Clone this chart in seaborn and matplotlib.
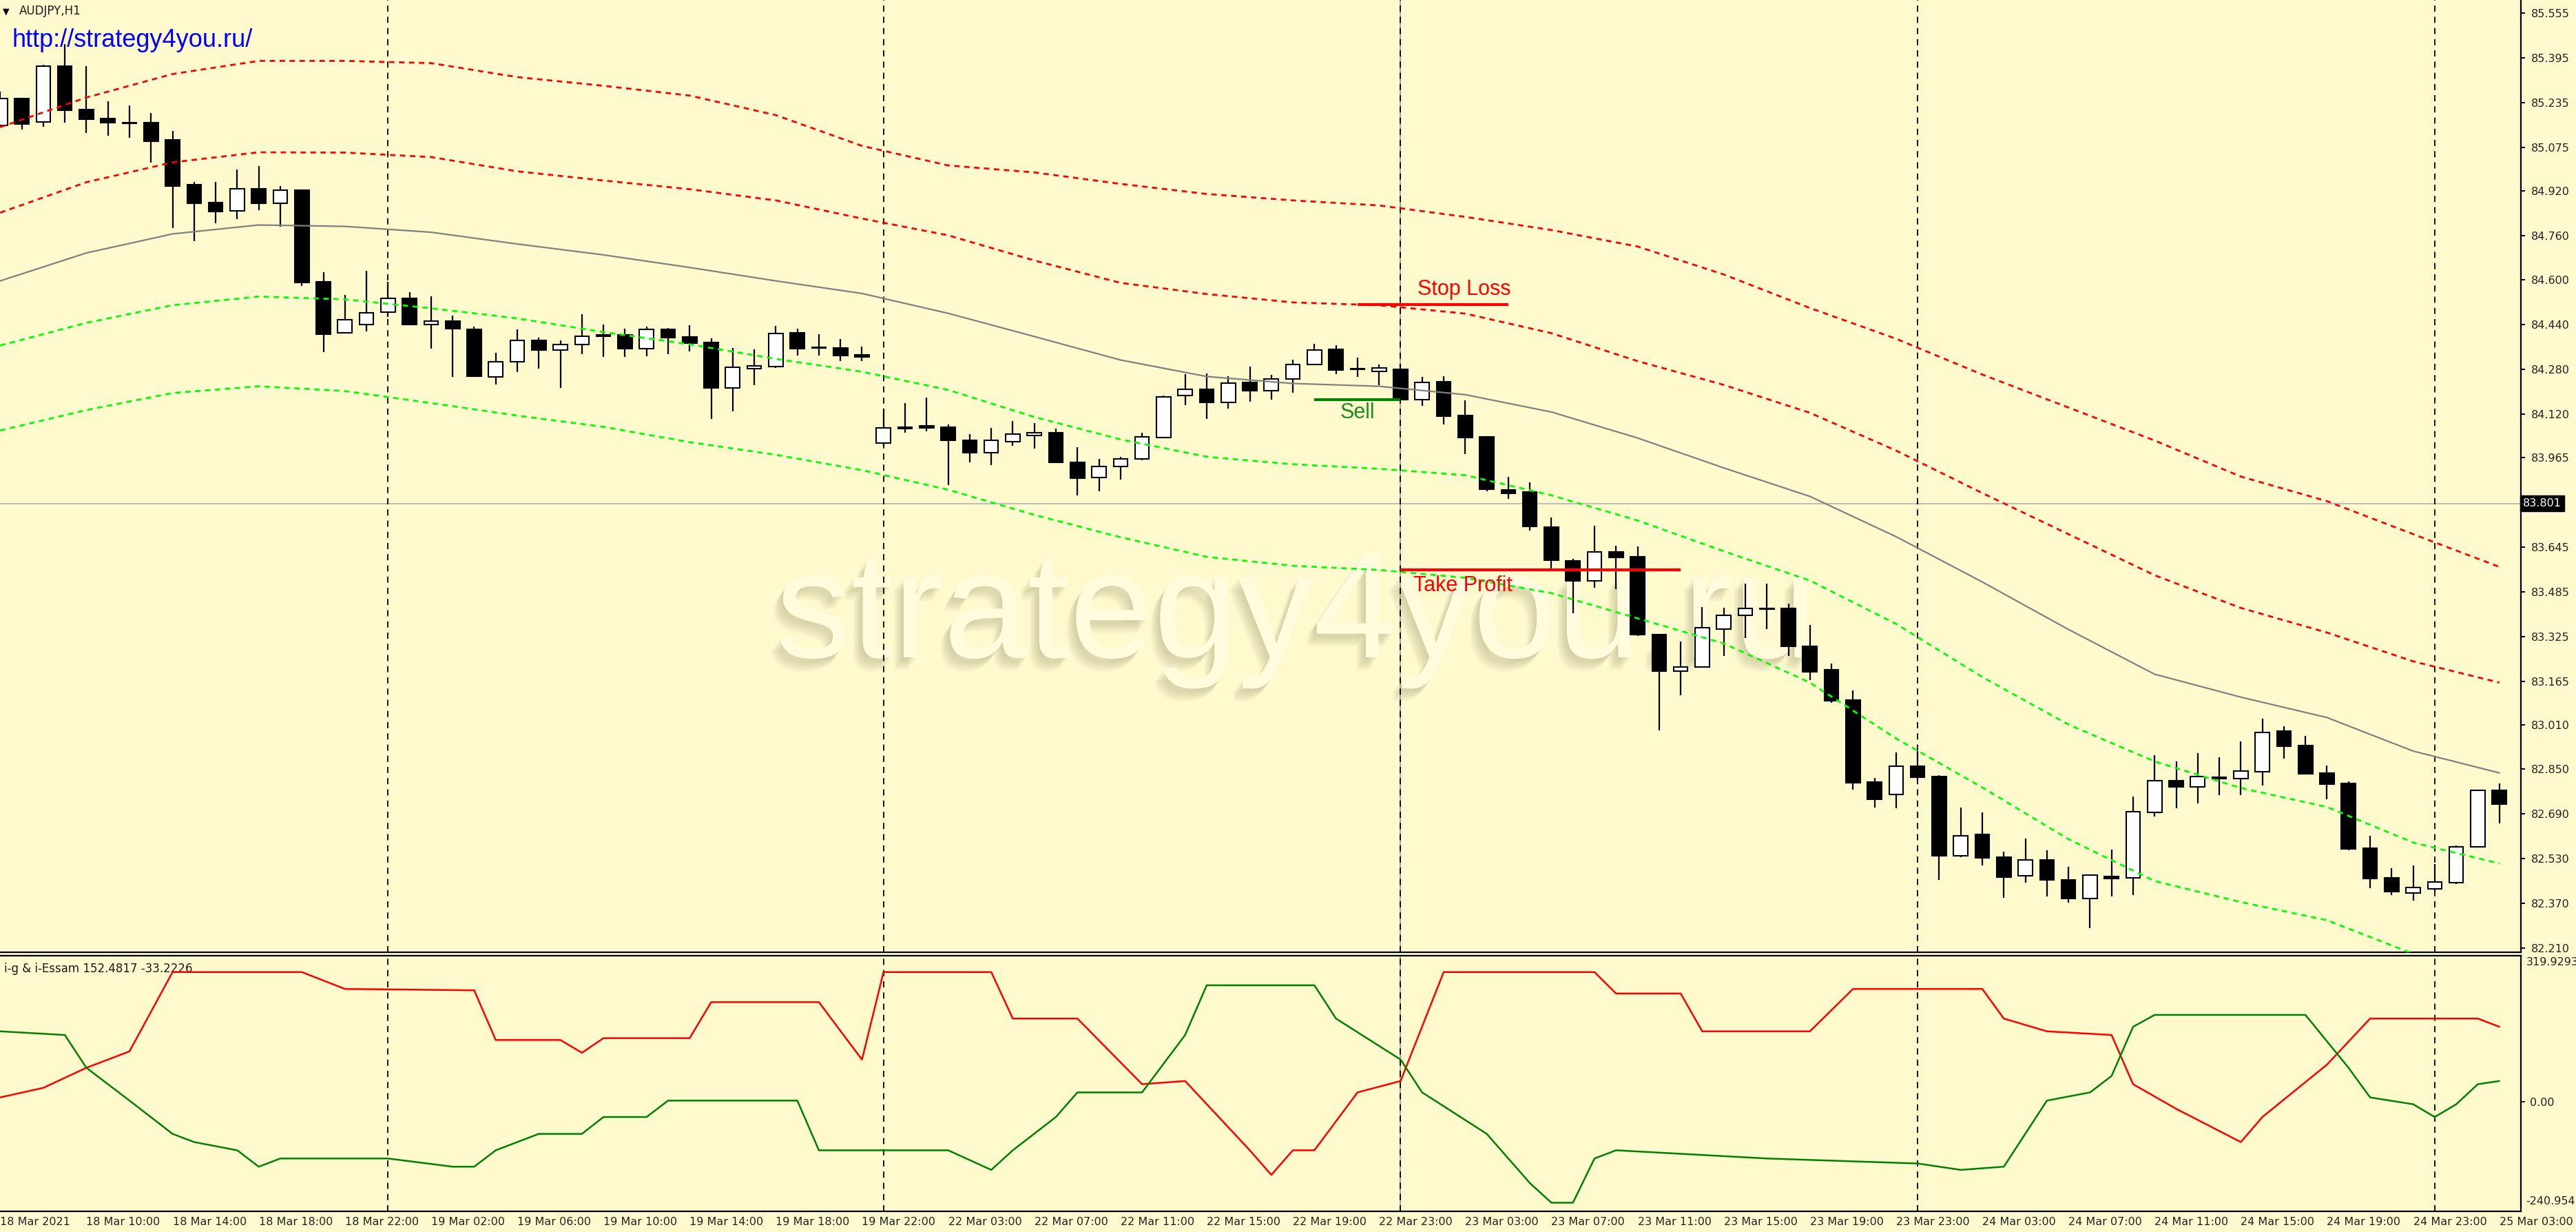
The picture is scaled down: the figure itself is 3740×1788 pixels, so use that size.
import matplotlib
matplotlib.use("Agg")
import matplotlib.pyplot as plt
import matplotlib.patheffects as pe
from matplotlib import font_manager
import numpy as np
import pandas as pd
import seaborn as sns

# AUDJPY H1 candles, 18 Mar 06:00 .. 25 Mar 03:00 (bar index = position on the time axis)
opens = [85.153, 85.250, 85.165, 85.365, 85.210, 85.178, 85.161, 85.164, 85.101, 84.941,
         84.877, 84.847, 84.926, 84.875, 84.922, 84.593, 84.412, 84.442, 84.486, 84.535,
         84.442, 84.452, 84.423, 84.254, 84.308, 84.384, 84.350, 84.370, 84.403, 84.403,
         84.355, 84.423, 84.396, 84.376, 84.215, 84.283, 84.291, 84.411, 84.357, 84.357,
         84.332, 84.018, 84.069, 84.078, 84.074, 84.026, 83.983, 84.023, 84.043, 84.053,
         83.948, 83.893, 83.932, 83.959, 84.037, 84.187, 84.208, 84.162, 84.234, 84.205,
         84.245, 84.298, 84.352, 84.281, 84.273, 84.280, 84.172, 84.237, 84.116, 84.038,
         83.850, 83.841, 83.715, 83.596, 83.524, 83.628, 83.610, 83.331, 83.202, 83.216,
         83.351, 83.401, 83.425, 83.425, 83.291, 83.205, 83.098, 82.804, 82.759, 82.862,
         82.825, 82.541, 82.617, 82.535, 82.470, 82.525, 82.453, 82.388, 82.467, 82.461,
         82.696, 82.808, 82.788, 82.822, 82.816, 82.841, 82.987, 82.934, 82.837, 82.800,
         82.568, 82.462, 82.407, 82.421, 82.444, 82.572, 82.774]
highs = [85.274, 85.253, 85.371, 85.444, 85.365, 85.240, 85.225, 85.197, 85.134, 84.951,
         84.951, 84.995, 85.009, 84.936, 84.924, 84.627, 84.546, 84.633, 84.593, 84.557,
         84.541, 84.472, 84.434, 84.340, 84.423, 84.395, 84.384, 84.478, 84.440, 84.425,
         84.434, 84.429, 84.439, 84.392, 84.357, 84.353, 84.435, 84.425, 84.406, 84.388,
         84.363, 84.141, 84.160, 84.179, 84.084, 84.049, 84.070, 84.097, 84.089, 84.068,
         84.001, 83.959, 83.967, 84.053, 84.187, 84.264, 84.267, 84.256, 84.290, 84.262,
         84.315, 84.372, 84.366, 84.322, 84.298, 84.301, 84.253, 84.257, 84.169, 84.038,
         83.895, 83.877, 83.751, 83.602, 83.721, 83.650, 83.647, 83.333, 83.307, 83.431,
         83.429, 83.515, 83.515, 83.443, 83.366, 83.229, 83.132, 82.819, 82.911, 82.915,
         82.829, 82.714, 82.695, 82.555, 82.603, 82.559, 82.502, 82.472, 82.563, 82.752,
         82.901, 82.877, 82.907, 82.892, 82.950, 83.032, 83.003, 82.969, 82.863, 82.806,
         82.611, 82.496, 82.506, 82.510, 82.577, 82.776, 82.800]
lows = [85.147, 85.138, 85.148, 85.163, 85.125, 85.115, 85.110, 85.019, 84.787, 84.739,
        84.802, 84.817, 84.849, 84.792, 84.580, 84.343, 84.410, 84.417, 84.469, 84.440,
        84.355, 84.254, 84.254, 84.226, 84.272, 84.282, 84.214, 84.336, 84.325, 84.325,
        84.327, 84.334, 84.345, 84.103, 84.131, 84.223, 84.286, 84.330, 84.330, 84.310,
        84.310, 84.004, 84.055, 84.059, 83.867, 83.949, 83.938, 84.006, 83.998, 83.945,
        83.829, 83.844, 83.886, 83.955, 84.036, 84.152, 84.103, 84.141, 84.166, 84.172,
        84.196, 84.297, 84.263, 84.253, 84.223, 84.170, 84.151, 84.083, 83.978, 83.844,
        83.817, 83.703, 83.566, 83.408, 83.500, 83.494, 83.327, 82.989, 83.114, 83.214,
        83.255, 83.319, 83.351, 83.255, 83.168, 83.088, 82.777, 82.712, 82.710, 82.808,
        82.455, 82.536, 82.507, 82.391, 82.444, 82.396, 82.373, 82.281, 82.396, 82.400,
        82.681, 82.710, 82.729, 82.757, 82.757, 82.792, 82.888, 82.831, 82.743, 82.560,
        82.425, 82.400, 82.381, 82.412, 82.440, 82.570, 82.656]
closes = [85.250, 85.159, 85.365, 85.208, 85.175, 85.163, 85.160, 85.096, 84.937, 84.875,
          84.845, 84.926, 84.875, 84.922, 84.591, 84.406, 84.459, 84.483, 84.535, 84.442,
          84.452, 84.427, 84.257, 84.308, 84.384, 84.350, 84.370, 84.400, 84.398, 84.355,
          84.423, 84.394, 84.374, 84.213, 84.289, 84.294, 84.409, 84.355, 84.356, 84.330,
          84.326, 84.072, 84.074, 84.070, 84.026, 83.982, 84.026, 84.049, 84.055, 83.949,
          83.891, 83.932, 83.961, 84.038, 84.183, 84.208, 84.162, 84.232, 84.205, 84.245,
          84.297, 84.349, 84.277, 84.280, 84.285, 84.172, 84.235, 84.113, 84.036, 83.853,
          83.838, 83.718, 83.598, 83.524, 83.628, 83.608, 83.331, 83.202, 83.217, 83.357,
          83.401, 83.425, 83.424, 83.289, 83.198, 83.094, 82.801, 82.742, 82.862, 82.821,
          82.541, 82.611, 82.532, 82.465, 82.525, 82.455, 82.388, 82.471, 82.459, 82.697,
          82.808, 82.788, 82.823, 82.816, 82.843, 82.982, 82.932, 82.835, 82.798, 82.564,
          82.459, 82.412, 82.426, 82.447, 82.572, 82.774, 82.725]

time_labels = ["18 Mar 2021", "18 Mar 10:00", "18 Mar 14:00", "18 Mar 18:00", "18 Mar 22:00",
               "19 Mar 02:00", "19 Mar 06:00", "19 Mar 10:00", "19 Mar 14:00", "19 Mar 18:00",
               "19 Mar 22:00", "22 Mar 03:00", "22 Mar 07:00", "22 Mar 11:00", "22 Mar 15:00",
               "22 Mar 19:00", "22 Mar 23:00", "23 Mar 03:00", "23 Mar 07:00", "23 Mar 11:00",
               "23 Mar 15:00", "23 Mar 19:00", "23 Mar 23:00", "24 Mar 03:00", "24 Mar 07:00",
               "24 Mar 11:00", "24 Mar 15:00", "24 Mar 19:00", "24 Mar 23:00", "25 Mar 03:00"]
label_bars = list(range(0, 117, 4))
day_breaks = [18, 41, 65, 89, 113]

# channel lines, read every 4th bar
band_bars = list(range(0, 117, 4))
upper_outer = [85.147, 85.253, 85.337, 85.384, 85.384, 85.376, 85.326, 85.295, 85.260, 85.190,
               85.080, 85.010, 84.985, 84.944, 84.908, 84.885, 84.867, 84.826, 84.779, 84.720,
               84.620, 84.500, 84.390, 84.262, 84.144, 84.026, 83.897, 83.809, 83.691, 83.574]
upper_inner = [84.841, 84.950, 85.021, 85.057, 85.056, 85.040, 84.989, 84.956, 84.925, 84.885,
               84.820, 84.760, 84.670, 84.590, 84.550, 84.520, 84.510, 84.480, 84.410, 84.310,
               84.225, 84.125, 83.990, 83.838, 83.691, 83.544, 83.427, 83.339, 83.236, 83.160]
middle = [84.597, 84.697, 84.765, 84.797, 84.792, 84.771, 84.729, 84.690, 84.645, 84.597,
          84.552, 84.481, 84.398, 84.314, 84.255, 84.230, 84.220, 84.190, 84.128, 84.035,
          83.928, 83.826, 83.682, 83.520, 83.350, 83.190, 83.108, 83.035, 82.915, 82.837]
lower_inner = [84.366, 84.447, 84.510, 84.541, 84.531, 84.499, 84.463, 84.414, 84.370, 84.318,
               84.272, 84.207, 84.110, 84.030, 83.968, 83.941, 83.925, 83.902, 83.830, 83.740,
               83.630, 83.525, 83.370, 83.180, 83.010, 82.878, 82.783, 82.715, 82.588, 82.513]
lower_outer = [84.062, 84.135, 84.196, 84.220, 84.203, 84.160, 84.115, 84.075, 84.020, 83.975,
               83.920, 83.850, 83.760, 83.680, 83.610, 83.578, 83.563, 83.535, 83.480, 83.390,
               83.300, 83.160, 82.960, 82.785, 82.600, 82.450, 82.375, 82.310, 82.190, 82.080]

price_ticks = [85.555, 85.395, 85.235, 85.075, 84.920, 84.760, 84.600, 84.440, 84.280, 84.120,
               83.965, 83.645, 83.485, 83.325, 83.165, 83.010, 82.850, 82.690, 82.530, 82.370,
               82.210]
bid_price = 83.801

# i-g & i-Essam oscillator
red_bars = [0, 2, 4, 6, 8, 14, 16, 22, 23, 26, 27, 28, 32, 33, 38, 40, 41, 46, 47, 50,
            53, 55, 58, 59, 60, 61, 63, 65, 67, 74, 75, 78, 79, 84, 86, 92, 93, 95, 98, 99,
            101, 104, 105, 108, 110, 115, 116]
red_vals = [9, 30, 74, 110, 284, 284, 247, 244, 135, 135, 107, 139, 139, 218, 218, 92, 284, 284, 182, 182,
            38, 45, -107, -161, -107, -107, 20, 45, 284, 284, 237, 237, 154, 154, 247, 247, 182, 154, 146, 38,
            -16, -89, -34, 81, 182, 182, 164]
green_bars = [0, 3, 4, 6, 8, 9, 11, 12, 13, 18, 21, 22, 23, 24, 25, 27, 28, 30, 31, 37,
              38, 44, 46, 47, 49, 50, 53, 55, 56, 61, 62, 65, 66, 69, 71, 72, 73, 74, 75, 82,
              89, 91, 93, 95, 97, 98, 99, 100, 107, 109, 110, 112, 113, 114, 115, 116]
green_vals = [154, 146, 74, 2, -71, -89, -107, -143, -125, -125, -143, -143, -107, -89, -71, -71, -34, -34, 2, 2,
              -107, -107, -150, -107, -34, 20, 20, 146, 255, 255, 182, 92, 20, -71, -179, -222, -222, -125, -107, -125,
              -136, -150, -143, 2, 20, 56, 164, 190, 190, 74, 9, -6, -34, -6, 38, 45]
ind_max, ind_min = 319.9293, -240.954

# trade objects
sell_price, sell_from, sell_to = 84.172, 61, 65
sl_price, sl_from, sl_to = 84.513, 63, 70
tp_price, tp_from, tp_to = 83.563, 65, 78

sns.set_theme(style="white")
plt.rcParams["font.family"] = ["DejaVu Sans"]

BG = "#FFF9CE"
W, H = 3740, 1788
fig = plt.figure(figsize=(W / 100, H / 100), dpi=100, facecolor=BG)
ax = fig.add_axes([0, 1 - 1382 / H, 3660 / W, 1382 / H], facecolor=BG)
ax2 = fig.add_axes([0, 30 / H, 3660 / W, 371 / H], facecolor=BG, sharex=ax)

avail = {f.name for f in font_manager.fontManager.ttflist}
if "Liberation Sans Narrow" in avail:
    xfont, xsize = "Liberation Sans Narrow", 15
else:
    xfont, xsize = "DejaVu Sans", 11.5
arial = "Liberation Sans" if "Liberation Sans" in avail else "DejaVu Sans"

# watermark (behind the chart), soft shadow to the lower left
shadows = [pe.SimplePatchShadow(offset=(-1.1 * k, -1.5 * k), shadow_rgbFace="#8a835c", alpha=0.045)
           for k in range(1, 10)]
ax.text(0.3077, 0.3097, "strategy4you.ru", transform=ax.transAxes, fontsize=158, family=arial,
        color="#FFFBDC", ha="left", va="baseline", zorder=1, path_effects=shadows + [pe.Normal()])

# candles
df = pd.DataFrame({"open": opens, "high": highs, "low": lows, "close": closes})
df["bar"] = df.index
up = df["close"] >= df["open"]
body = (df["close"] - df["open"]).abs().clip(lower=0.0025)
ax.vlines(df["bar"], df["low"], df["high"], color="black", lw=1.6, zorder=3)
ax.bar(df["bar"], body, bottom=df[["open", "close"]].min(axis=1), width=0.66,
       color=np.where(up, "white", "black"), edgecolor="black", linewidth=1.5, zorder=4)

# channel
bands = pd.DataFrame({"bar": band_bars, "uo": upper_outer, "ui": upper_inner, "mid": middle,
                      "li": lower_inner, "lo": lower_outer})
dots = (0, (2.8, 2.4))
for col, colr, ls, lw in [("uo", "#FF0000", dots, 2.0), ("ui", "#FF0000", dots, 2.0),
                          ("mid", "#808080", "-", 1.6), ("li", "#00FF00", dots, 2.0),
                          ("lo", "#00FF00", dots, 2.0)]:
    sns.lineplot(data=bands, x="bar", y=col, ax=ax, color=colr, linestyle=ls, linewidth=lw, zorder=5)

# bid line
ax.axhline(bid_price, color="#B8B8B8", lw=1.3, zorder=2)

# vertical line object + day separators
for a in (ax, ax2):
    a.axvline(65, color="#9A9A9A", lw=1.3, zorder=2)
    for d in day_breaks:
        a.axvline(d, color="black", lw=1.3, linestyle=(0, (5, 4)), zorder=2)

# trade levels
ax.hlines(sell_price, sell_from, sell_to, color="#008000", lw=3, zorder=6)
ax.hlines(sl_price, sl_from, sl_to, color="#FF0000", lw=3, zorder=6)
ax.hlines(tp_price, tp_from, tp_to, color="#FF0000", lw=3, zorder=6)
ax.text(62.2, 84.106, "Sell", color="#1E8C1E", fontsize=22, family=arial, va="baseline", zorder=7)
ax.text(65.8, 84.547, "Stop Loss", color="#FF0000", fontsize=22, family=arial, va="baseline", zorder=7)
ax.text(65.6, 83.487, "Take Profit", color="#FF0000", fontsize=22, family=arial, va="baseline", zorder=7)

ax.text(17 / 3660, 0.9508, "http://strategy4you.ru/", transform=ax.transAxes, fontsize=26,
        family=arial, color="#0000FF", va="baseline", zorder=7)
ax.text(4 / 3660, 0.9855, "\u25BC", transform=ax.transAxes, fontsize=9, color="black", va="baseline")
ax.text(28 / 3660, 0.9848, "AUDJPY,H1", transform=ax.transAxes, fontsize=12, color="#1a1a1a",
        va="baseline")

# oscillator
sns.lineplot(x=red_bars, y=red_vals, ax=ax2, color="#FF0000", linewidth=1.8, zorder=4)
sns.lineplot(x=green_bars, y=green_vals, ax=ax2, color="#008000", linewidth=1.8, zorder=4)
ax2.text(6 / 3660, 0.972, "i-g & i-Essam 152.4817 -33.2226", transform=ax2.transAxes,
         fontsize=12, color="#1a1a1a", va="top", ha="left")

# axes
ax.set_xlim(-0.01, 117.0)
ax.set_ylim(82.1954, 85.6018)
ax2.set_ylim(ind_min, ind_max)
for a in (ax, ax2):
    a.set_xlabel("")
    a.set_ylabel("")
    a.grid(False)
    for s in a.spines.values():
        s.set_color("black")
        s.set_linewidth(1.6)
    a.spines["left"].set_visible(False)
ax.spines["top"].set_visible(False)

ax.yaxis.tick_right()
ax.set_yticks(price_ticks)
ax.set_yticklabels([f"{v:.3f}" for v in price_ticks])
ax.tick_params(axis="y", direction="out", length=4, width=1.4, pad=7, labelsize=11.5,
               colors="black", labelcolor="#222222")
ax.tick_params(axis="x", bottom=False, labelbottom=False)
ax.text(1.0008, bid_price, "83.801", transform=ax.get_yaxis_transform(), fontsize=11.5,
        color="white", va="center", ha="left",
        bbox=dict(boxstyle="square,pad=0.25", fc="black", ec="black"))

ax2.yaxis.tick_right()
ax2.set_yticks([0])
ax2.set_yticklabels(["0.00"])
ax2.tick_params(axis="y", direction="out", length=4, width=1.4, pad=5, labelsize=11.5,
                labelcolor="#222222")
ax2.text(1.002, 0.995, f"{ind_max:.4f}", transform=ax2.transAxes, fontsize=11.5, color="#222222",
         va="top", ha="left")
ax2.text(1.002, 0.02, f"{ind_min:.3f}", transform=ax2.transAxes, fontsize=11.5, color="#222222",
         va="bottom", ha="left")

ax2.set_xticks(label_bars)
ax2.set_xticklabels(time_labels, ha="left", family=xfont, fontsize=xsize, color="#222222")
ax2.tick_params(axis="x", direction="out", length=5, width=1.4, pad=1, colors="black",
                labelcolor="#222222")

fig.savefig("out.png", dpi=100, facecolor=BG)
